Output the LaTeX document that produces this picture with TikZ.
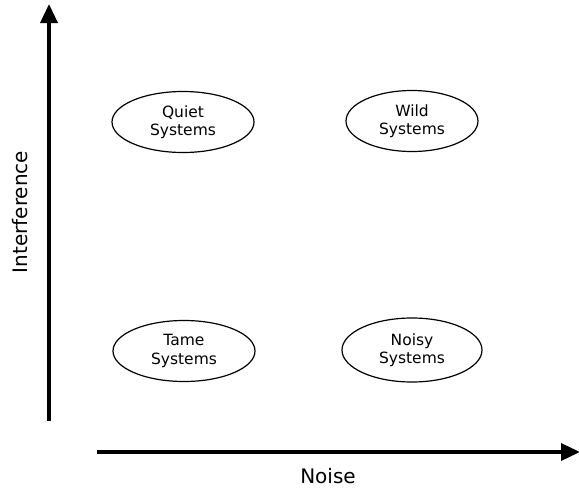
\documentclass[tikz,border=0pt]{standalone}
\usepackage{fontspec}
\setmainfont{DejaVu Sans}
\usetikzlibrary{arrows.meta,shapes.geometric}
\begin{document}
\begin{tikzpicture}[x=1pt,y=-1pt,
  axis/.style={line width=3.5pt,-{Triangle[width=17pt,length=19pt]}},
  sys/.style={draw,ellipse,line width=1.2pt,minimum width=142pt,minimum height=61pt,inner sep=0pt,align=center,font=\fontsize{15.5}{18.5}\selectfont},
  lbl/.style={font=\fontsize{20}{24}\selectfont}]
\useasboundingbox (0,0) rectangle (579,488);
\coordinate (ybot) at (49,421);
\coordinate (ytop) at (49,4);
\coordinate (xl) at (97,452);
\coordinate (xr) at (580,452);
\draw[axis] (ybot) -- (ytop);
\draw[axis] (xl) -- (xr);
\node[sys] (quiet) at (183,122) {Quiet\\Systems};
\node[sys,minimum width=132pt] (wild) at (412,121) {Wild\\Systems};
\node[sys] (tame) at (184,351) {Tame\\Systems};
\node[sys,minimum width=140pt,minimum height=64pt] (noisy) at (412,350) {Noisy\\Systems};
\node[lbl,rotate=90] (interf) at (20,212) {Interference};
\node[lbl] (noise) at (328,476) {Noise};
\end{tikzpicture}
\end{document}
